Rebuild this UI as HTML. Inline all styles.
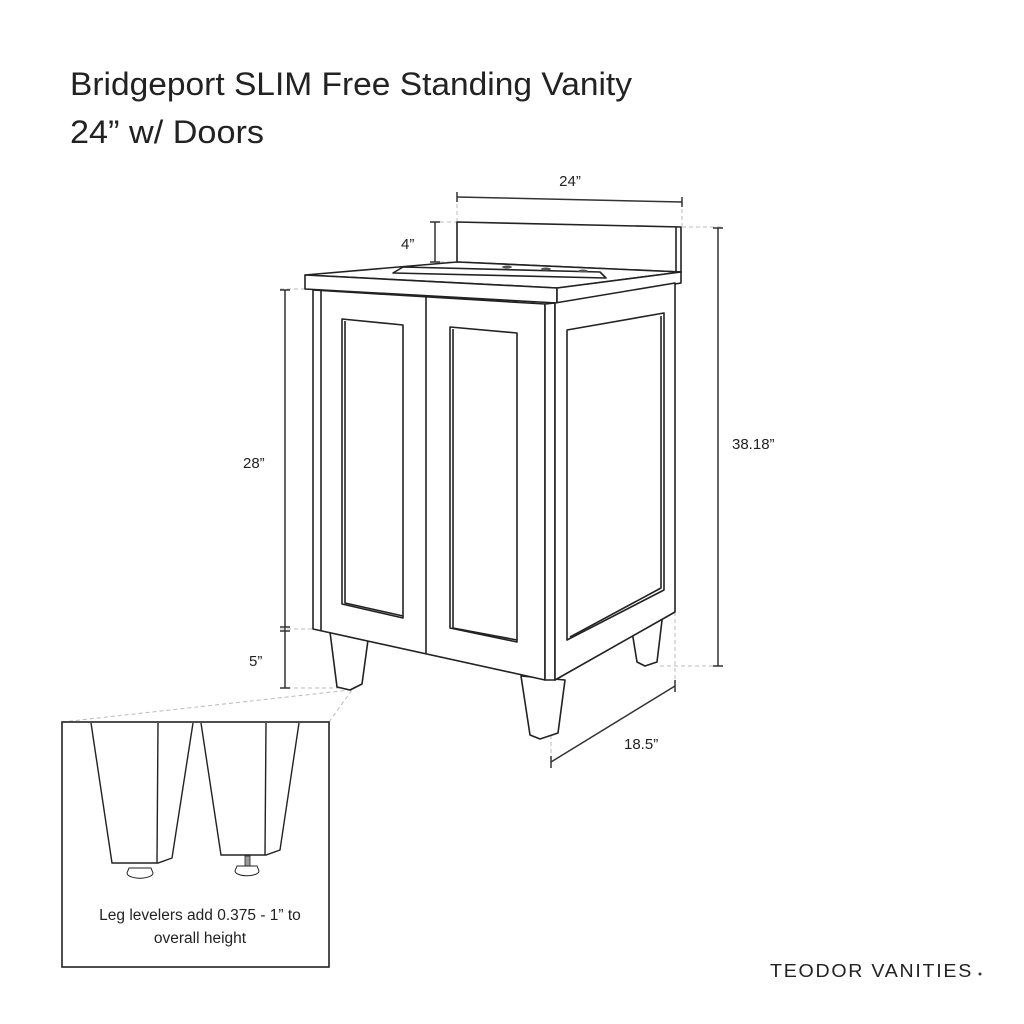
<!DOCTYPE html>
<html><head><meta charset="utf-8"><style>
html,body{margin:0;padding:0;background:#fff}
svg{display:block}
text{font-family:"Liberation Sans",sans-serif;fill:#222}
</style></head><body>
<svg width="1024" height="1024" viewBox="0 0 1024 1024" xmlns="http://www.w3.org/2000/svg">
<text x="70" y="95" font-size="32" textLength="562" lengthAdjust="spacingAndGlyphs">Bridgeport SLIM Free Standing Vanity</text>
<text x="70" y="143" font-size="32" textLength="194" lengthAdjust="spacingAndGlyphs">24” w/ Doors</text>

<g stroke="#bbb" stroke-width="1" stroke-dasharray="4,3" fill="none">
<line x1="457" y1="197" x2="457" y2="222"/>
<line x1="682" y1="202" x2="682" y2="226"/>
<line x1="440" y1="222" x2="457" y2="222"/>
<line x1="440" y1="262" x2="457" y2="262"/>
<line x1="682" y1="227" x2="722" y2="227"/>
<line x1="280" y1="289" x2="305" y2="289"/>
<line x1="280" y1="629" x2="318" y2="629"/>
<line x1="280" y1="688" x2="340" y2="688"/>
<line x1="660" y1="666" x2="722" y2="666"/>
<line x1="675" y1="612" x2="675" y2="686"/>
<line x1="551" y1="735" x2="551" y2="762"/>
<line x1="62" y1="722" x2="350" y2="690"/>
<line x1="329" y1="722" x2="352" y2="690"/>
</g>

<g stroke="#333" stroke-width="1.5" fill="none">
<!-- dims -->
<line x1="457" y1="197" x2="682" y2="202"/>
<line x1="457" y1="192" x2="457" y2="202"/><line x1="682" y1="197" x2="682" y2="207"/>
<line x1="435" y1="222" x2="435" y2="262"/><line x1="430" y1="222" x2="440" y2="222"/><line x1="430" y1="262" x2="440" y2="262"/>
<line x1="285" y1="290" x2="285" y2="688"/>
<line x1="280" y1="290" x2="290" y2="290"/><line x1="280" y1="627" x2="290" y2="627"/><line x1="280" y1="631" x2="290" y2="631"/><line x1="280" y1="688" x2="290" y2="688"/>
<line x1="718" y1="228" x2="718" y2="666"/><line x1="713" y1="228" x2="723" y2="228"/><line x1="713" y1="666" x2="723" y2="666"/>
<line x1="551" y1="762" x2="675" y2="686"/><line x1="551" y1="756" x2="551" y2="768"/><line x1="675" y1="680" x2="675" y2="692"/>
</g>

<g stroke="#222" stroke-width="1.6" fill="#fff" stroke-linejoin="round">
<!-- backsplash -->
<polygon points="457,222 681,227 681,272 457,262"/>
<line x1="676" y1="227" x2="676" y2="272"/>
<!-- countertop -->
<polygon points="305,275 457,262 681,272 557,288"/>
<polygon points="305,275 557,288 557,303 305,289"/>
<polygon points="557,288 681,272 681,283 557,303"/>
<polygon points="393,273 403,267 600,272 606,278" fill="#fff"/>
<!-- legs -->
<polygon points="330,632 368,640 362,684 350,690 337,687"/>
<polygon points="521,676 565,680 558,733 540,739 530,735"/>
<polygon points="631,625 663,612 657,662 645,666 637,662"/>
<!-- front face -->
<polygon points="313,290 545,304 545,680 313,629"/>
<line x1="321" y1="291" x2="321" y2="631"/>
<line x1="426" y1="297" x2="426" y2="654"/>
<!-- corner post -->
<polygon points="545,304 555,303 555,680 545,680"/>
<!-- side -->
<polygon points="555,303 675,283 675,612 555,680"/>
<polygon points="567,330 664,313 664,590 567,640"/>
<polyline points="570,637 661,588 661,316" fill="none"/>
<!-- door panels -->
<polygon points="342,319 403,325 403,618 342,604"/>
<polyline points="345,321 345,603 403,616" fill="none"/>
<polygon points="450,327 517,333 517,642 450,628"/>
<polyline points="453,329 453,628 517,640" fill="none"/>
</g>
<g fill="#555"><ellipse cx="507" cy="267" rx="5" ry="1.5"/><ellipse cx="546" cy="269" rx="5" ry="1.5"/><ellipse cx="583" cy="271" rx="5" ry="1.5"/></g>

<!-- inset -->
<rect x="62" y="722" width="267" height="245" fill="none" stroke="#222" stroke-width="1.6"/>
<g stroke="#222" stroke-width="1.4" fill="#fff">
<polyline points="91,723 112,863 158,863 172,858 193,723"/>
<line x1="158" y1="723" x2="157" y2="863"/>
<polyline points="201,723 221,855 266,855 280,850 299,723"/>
<line x1="266" y1="723" x2="265" y2="855"/>
<path d="M129,868 h22 l2,5 a10,4 0 0 1 -26,0 z" stroke-width="1"/>
<rect x="245" y="856" width="5" height="10" fill="#999" stroke-width="0.8"/>
<path d="M237,866 h20 l2,5 a10,4 0 0 1 -24,0 z" stroke-width="1"/>
</g>
<text x="200" y="920" font-size="15.5" text-anchor="middle">Leg levelers add 0.375 - 1” to</text>
<text x="200" y="943" font-size="15.5" text-anchor="middle">overall height</text>

<text x="570" y="186" font-size="15" text-anchor="middle">24”</text>
<text x="401" y="249" font-size="15">4”</text>
<text x="243" y="468" font-size="15">28”</text>
<text x="249" y="666" font-size="15">5”</text>
<text x="732" y="449" font-size="15">38.18”</text>
<text x="624" y="749" font-size="15">18.5”</text>
<text x="770" y="977" font-size="18" fill="#333" letter-spacing="1.6" textLength="203" lengthAdjust="spacingAndGlyphs">TEODOR VANITIES</text>
<circle cx="980" cy="974" r="1.5" fill="#333"/>
</svg>
</body></html>
